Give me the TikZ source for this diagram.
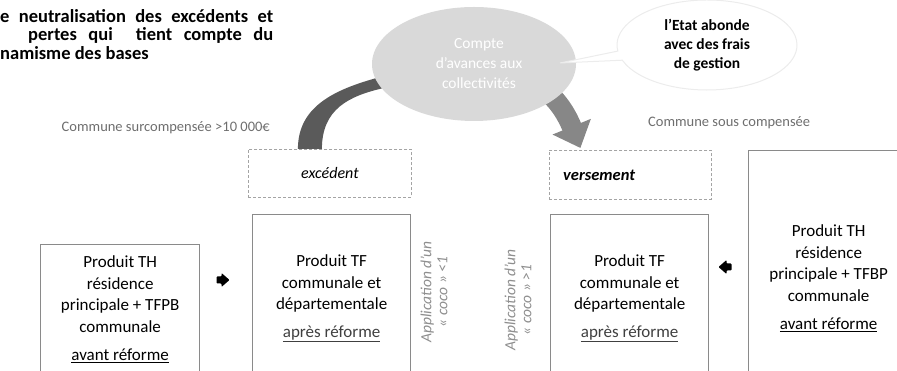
\documentclass[tikz,border=0pt]{standalone}
\usepackage{fontspec}
\setmainfont{Carlito}
\usetikzlibrary{positioning,shapes.geometric,shapes.callouts,arrows.meta,backgrounds}
\definecolor{boxgray}{HTML}{8A8A8A}
\definecolor{dashgray}{HTML}{A4A4A4}
\definecolor{ellgray}{HTML}{D9D9D9}
\definecolor{bandgray}{HTML}{5A5A5A}
\definecolor{arrowgray}{HTML}{878787}
\definecolor{labgray}{HTML}{6E6E6E}
\definecolor{cocogray}{HTML}{8E8E8E}

\begin{document}
\begin{tikzpicture}[x=1pt,y=1pt,
  bigbox/.style={draw=boxgray,line width=1.3pt,anchor=north west,inner sep=0pt},
  dashbox/.style={draw=dashgray,densely dashed,line width=.8pt,anchor=north west,inner sep=0pt},
  boxtext/.style={align=center,inner sep=0pt,font=\fontsize{17}{21.5}\selectfont},
  lab/.style={text=labgray,inner sep=0pt,font=\fontsize{14.5}{17}\selectfont},
  coco/.style={rotate=90,align=center,inner sep=0pt,text=cocogray,font=\itshape\fontsize{15.5}{16}\selectfont}]
\useasboundingbox (0,0) rectangle (897,371);

\node[anchor=north west,inner sep=0pt,align=left,font=\bfseries\fontsize{18.5}{18.5}\selectfont] (intro) at (0,362)
  {\makebox[273pt][s]{e neutralisation des excédents et}\\
   \hspace*{28pt}\makebox[245pt][s]{pertes qui\ \ tient compte du}\\
   namisme des bases};

\node[ellipse,fill=ellgray,minimum width=204pt,minimum height=114pt,inner sep=0pt,text=white,align=center,font=\fontsize{15.5}{20}\selectfont] (ell) at (474,307) {\hspace*{10pt}Compte\\\hspace*{10pt}d’avances aux\\\hspace*{10pt}collectivités};
\node[ellipse callout,fill=white,draw=gray!15,line width=1pt,minimum width=180pt,minimum height=90pt,inner sep=0pt,
  callout absolute pointer={(560,308)},callout pointer arc=12,align=center,font=\bfseries\fontsize{15.5}{19}\selectfont] (etat) at (707,326)
  {l’Etat abonde\\avec des frais\\de gestion};

\node[lab,anchor=east] (surc) at (270,243) {Commune surcompensée >10 000€};
\node[lab,anchor=west] (sous) at (648,248) {Commune sous compensée};

\node[dashbox,minimum width=163pt,minimum height=48pt] (exc) at (248,222) {};
\node[font=\itshape\fontsize{16}{18}\selectfont] (exctext) at (exc.center) {excédent};
\node[dashbox,minimum width=162pt,minimum height=49pt] (vers) at (549,221) {};
\node[anchor=west,inner sep=0pt,font=\bfseries\itshape\fontsize{16.5}{18}\selectfont] (verstext) at ([xshift=14pt]vers.west) {versement};

\node[bigbox,minimum width=159pt,minimum height=132pt] (lbox) at (40,127) {};
\node[bigbox,minimum width=158pt,minimum height=162pt] (tfa) at (252,157) {};
\node[bigbox,minimum width=158pt,minimum height=162pt] (tfb) at (550,157) {};
\node[bigbox,minimum width=160pt,minimum height=226pt] (rbox) at (748,221) {};

\node[boxtext,below=12pt of lbox.north] (ltext) {Produit TH\\résidence\\principale + TFPB\\communale\\[7pt]\underline{avant réforme}};
\node[boxtext,below=41pt of tfa.north] (tfatext) {Produit TF\\communale et\\départementale\\[6pt]\textcolor{black!75}{\underline{après réforme}}};
\node[boxtext,below=41pt of tfb.north] (tfbtext) {Produit TF\\communale et\\départementale\\[6pt]\textcolor{black!75}{\underline{après réforme}}};
\node[boxtext,below=75pt of rbox.north] (rtext) {Produit TH\\résidence\\principale + TFBP\\communale\\[7pt]\underline{avant réforme}};

\node[coco] (cocoa) at (434,79) {Application d’un\\« coco » <1};
\node[coco] (cocob) at (518,71) {Application d’un\\« coco » >1};

\coordinate (arra) at (223,91);
\coordinate (arrb) at (725,104);
\fill[rounded corners=.8pt] ([shift={(-6.5,-3.5)}]arra) -- ++(5,0) -- ++(0,-3.5) -- ++(8,7) -- ++(-8,7) -- ++(0,-3.5) -- ++(-5,0) -- cycle;
\fill[rounded corners=.8pt] ([shift={(6.5,-3.5)}]arrb) -- ++(-5,0) -- ++(0,-3.5) -- ++(-8,7) -- ++(8,7) -- ++(0,-3.5) -- ++(5,0) -- cycle;

\begin{scope}[on background layer]
\fill[bandgray] ([xshift=-32pt]exc.north) .. controls +(0,45) and +(-45,-12) .. ([shift={(12pt,-12pt)}]ell.west)
  -- ([shift={(12pt,-24pt)}]ell.west) .. controls +(-35,-8) and +(0,40) .. ([xshift=-8pt]exc.north) -- cycle;
\draw[arrowgray,line width=20pt,-{Triangle[width=40pt,length=23pt]}] (ell.center) .. controls (540,300) and (562,268) .. ([xshift=-50pt,yshift=2pt]vers.north);
\end{scope}
\end{tikzpicture}
\end{document}
